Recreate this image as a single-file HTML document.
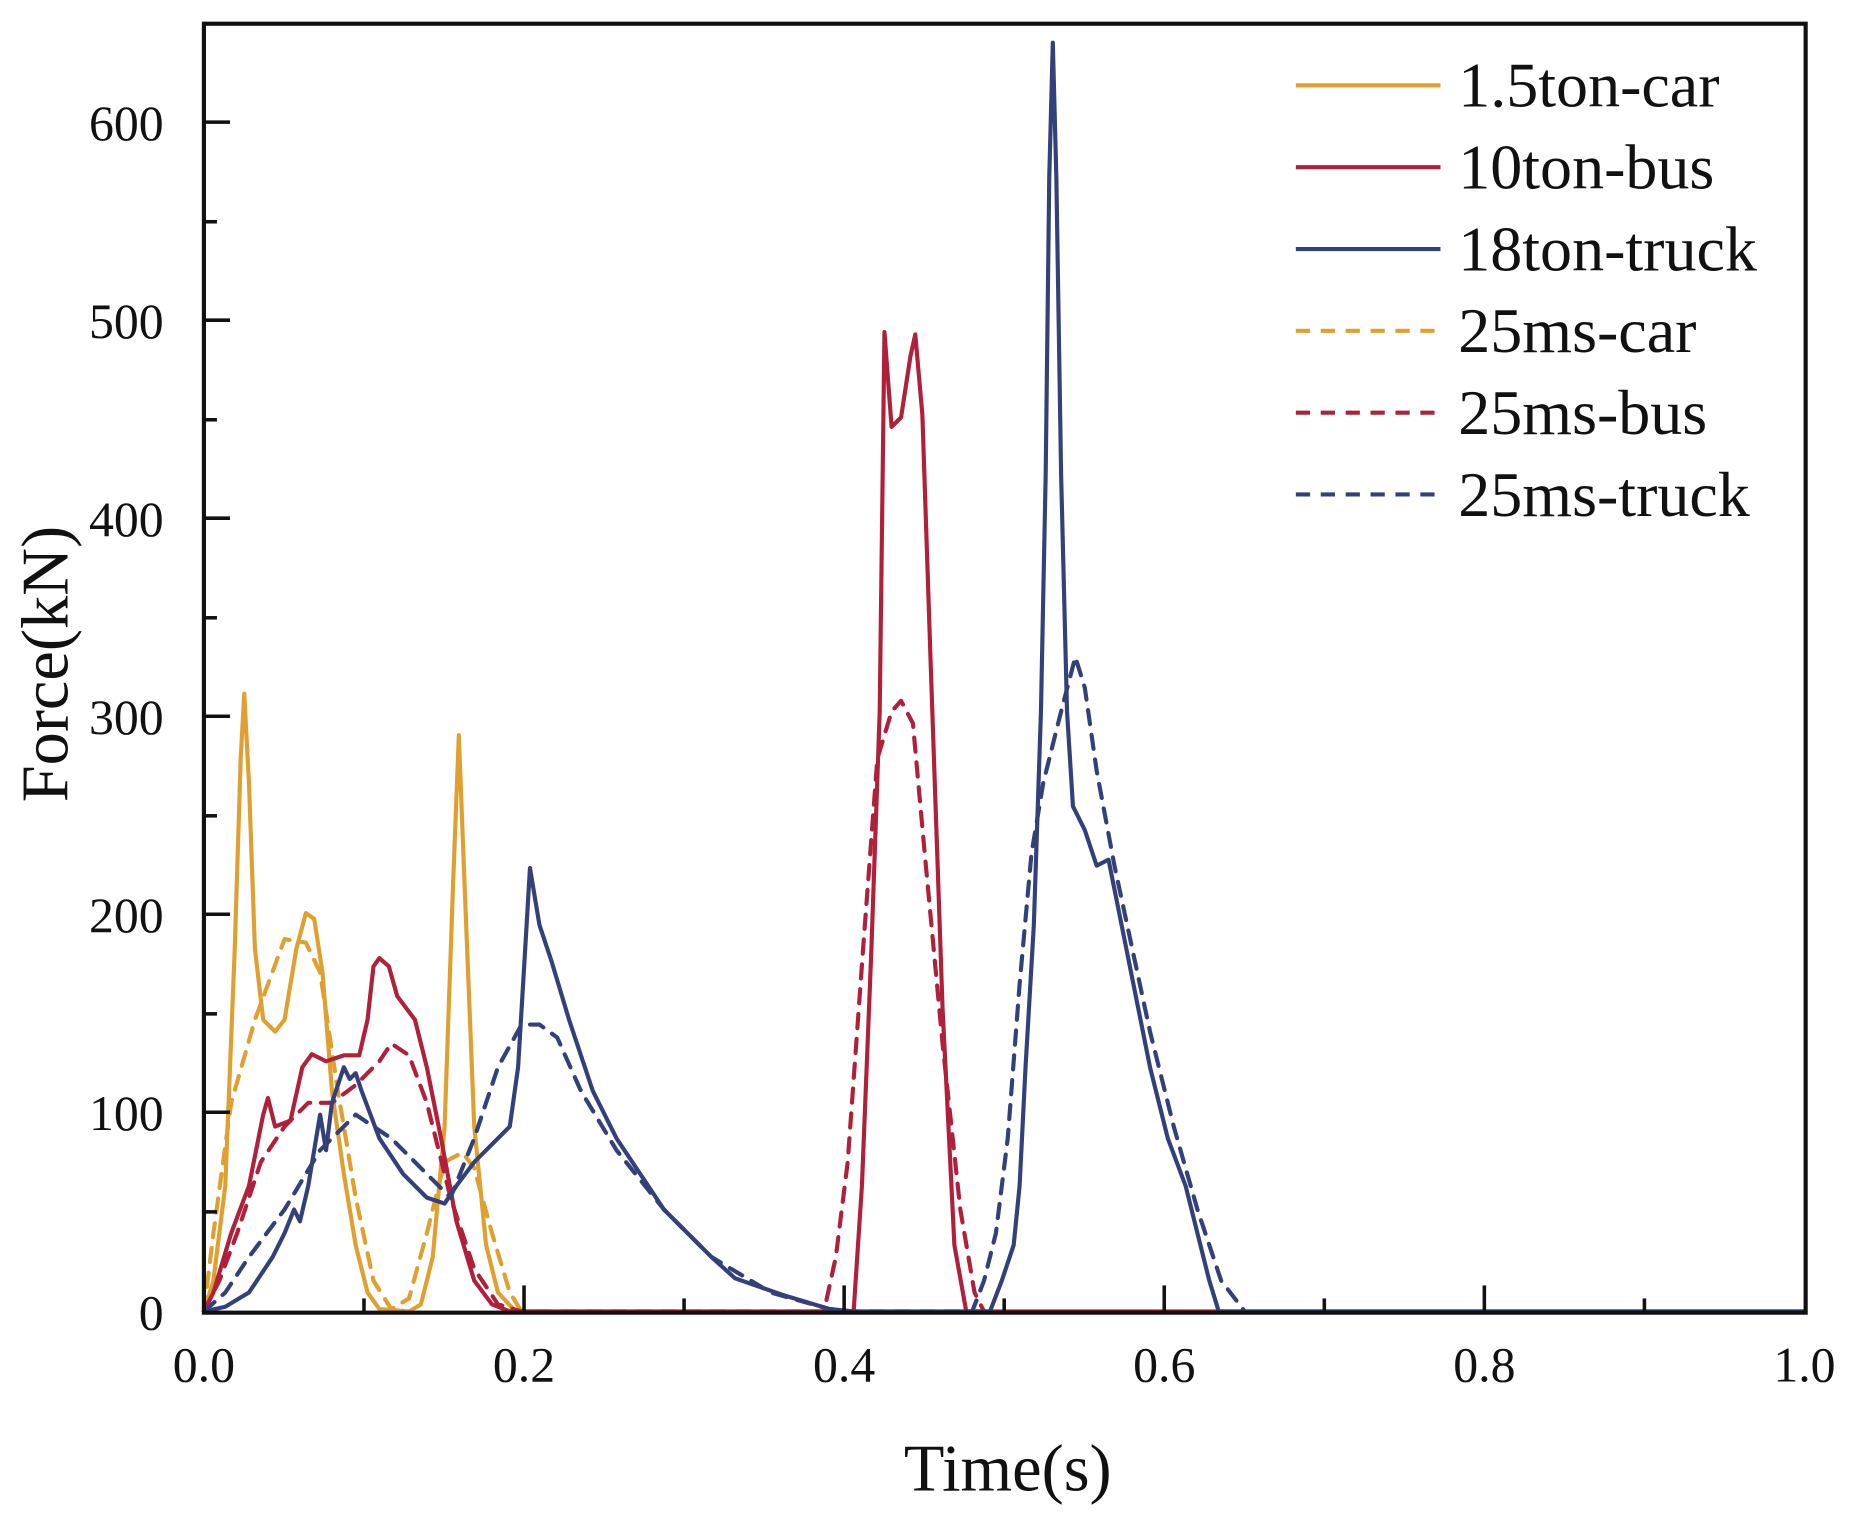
<!DOCTYPE html>
<html><head><meta charset="utf-8"><style>
html,body{margin:0;padding:0;background:#fff;}
svg{display:block;}
text{font-family:"Liberation Serif",serif;fill:#111;}
</style></head><body>
<svg width="1859" height="1519" viewBox="0 0 1568 1281" preserveAspectRatio="none" xmlns="http://www.w3.org/2000/svg">
<rect width="1568" height="1281" fill="#fff"/>
<g fill="none" stroke-linejoin="round" stroke-linecap="round" stroke-width="3.5">
<polyline stroke="#E0A030" points="172,1106 180,1080 190,1000 198,800 203,640 206,585 210,660 215,800 222,860 232,870 240,860 250,800 258,770 265,775 272,820 280,920 290,990 300,1050 310,1090 320,1104 345,1106 355,1100 365,1060 375,950 382,750 387,620 392,750 400,950 410,1050 420,1090 435,1106 460,1106"/>
<polyline stroke="#E0A030" stroke-dasharray="12,9" points="172,1106 180,1040 195,930 215,860 240,792 258,795 270,820 285,920 300,1010 315,1080 330,1104 345,1095 360,1040 375,980 390,972 400,985 415,1040 430,1090 440,1106 455,1106"/>
<polyline stroke="#B0203A" points="172,1106 180,1090 195,1040 210,1000 222,940 226,926 232,950 245,945 255,900 263,889 275,895 290,890 303,890 310,860 315,815 320,808 328,815 335,840 350,860 360,900 372,960 385,1030 400,1080 415,1100 430,1106 720,1106 727,1000 735,800 742,600 746,280 752,360 760,352 768,300 772,282 778,350 785,560 795,850 805,1050 815,1106 1522,1106"/>
<polyline stroke="#B0203A" stroke-dasharray="12,9" points="172,1106 185,1080 200,1040 220,980 240,950 260,930 280,930 300,915 320,895 330,880 345,890 360,930 380,1010 400,1070 420,1100 440,1106 695,1106 705,1060 715,980 728,800 740,640 752,600 760,591 770,610 780,720 795,880 810,1020 822,1090 830,1106"/>
<polyline stroke="#33407A" points="172,1106 190,1102 210,1090 230,1060 240,1040 248,1020 253,1030 260,1000 270,940 275,970 280,930 290,900 295,910 300,905 305,920 320,960 340,990 360,1010 375,1015 385,1000 400,980 420,960 430,950 437,900 443,800 447,732 455,780 465,810 480,860 500,920 520,960 540,990 560,1020 580,1040 600,1060 620,1078 640,1085 660,1092 680,1098 700,1104 720,1106 835,1106 845,1080 855,1050 860,1000 865,900 872,780 878,600 882,400 885,150 888,36 891,150 895,400 900,600 905,680 915,700 925,730 935,725 940,750 950,800 960,850 970,900 985,960 1000,1000 1010,1040 1020,1080 1028,1106 1522,1106"/>
<polyline stroke="#33407A" stroke-dasharray="12,9" points="172,1106 190,1090 210,1060 240,1020 270,970 300,940 330,960 360,990 380,1010 400,960 420,900 440,864 455,864 470,875 490,920 520,970 560,1020 600,1060 650,1090 700,1104 720,1106 820,1106 830,1080 840,1040 850,960 860,830 870,720 880,660 895,600 907,554 915,580 925,650 940,730 955,800 970,870 990,950 1010,1020 1030,1080 1050,1106"/>
</g>
<rect x="172" y="20" width="1351" height="1087" fill="none" stroke="#111" stroke-width="3.5"/>
<g stroke="#111" stroke-width="3">
<line x1="172" y1="938" x2="194" y2="938"/><line x1="172" y1="771" x2="194" y2="771"/><line x1="172" y1="604" x2="194" y2="604"/><line x1="172" y1="437" x2="194" y2="437"/><line x1="172" y1="270" x2="194" y2="270"/><line x1="172" y1="103" x2="194" y2="103"/>
<line x1="172" y1="1022" x2="183" y2="1022"/><line x1="172" y1="855" x2="183" y2="855"/><line x1="172" y1="688" x2="183" y2="688"/><line x1="172" y1="521" x2="183" y2="521"/><line x1="172" y1="354" x2="183" y2="354"/><line x1="172" y1="187" x2="183" y2="187"/>
<line x1="442" y1="1106" x2="442" y2="1084"/><line x1="712" y1="1106" x2="712" y2="1084"/><line x1="982" y1="1106" x2="982" y2="1084"/><line x1="1252" y1="1106" x2="1252" y2="1084"/>
<line x1="307" y1="1106" x2="307" y2="1095"/><line x1="577" y1="1106" x2="577" y2="1095"/><line x1="847" y1="1106" x2="847" y2="1095"/><line x1="1117" y1="1106" x2="1117" y2="1095"/><line x1="1387" y1="1106" x2="1387" y2="1095"/>
</g>
<g font-size="42" text-anchor="end">
<text x="138" y="1121">0</text><text x="138" y="953">100</text><text x="138" y="786">200</text><text x="138" y="619">300</text><text x="138" y="452">400</text><text x="138" y="285">500</text><text x="138" y="118">600</text>
</g>
<g font-size="42" text-anchor="middle">
<text x="172" y="1165">0.0</text><text x="442" y="1165">0.2</text><text x="712" y="1165">0.4</text><text x="982" y="1165">0.6</text><text x="1252" y="1165">0.8</text><text x="1522" y="1165">1.0</text>
</g>
<text x="850" y="1257" font-size="56" text-anchor="middle">Time(s)</text>
<text transform="translate(57,560) rotate(-90)" font-size="56" text-anchor="middle">Force(kN)</text>
<g stroke-width="3.5">
<line x1="1093" y1="72" x2="1215" y2="72" stroke="#E0A030"/>
<line x1="1093" y1="141" x2="1215" y2="141" stroke="#B0203A"/>
<line x1="1093" y1="210" x2="1215" y2="210" stroke="#33407A"/>
<line x1="1093" y1="279" x2="1215" y2="279" stroke="#E0A030" stroke-dasharray="12,9"/>
<line x1="1093" y1="348" x2="1215" y2="348" stroke="#B0203A" stroke-dasharray="12,9"/>
<line x1="1093" y1="417" x2="1215" y2="417" stroke="#33407A" stroke-dasharray="12,9"/>
</g>
<g font-size="54">
<text x="1230" y="90">1.5ton-car</text>
<text x="1230" y="159">10ton-bus</text>
<text x="1230" y="228">18ton-truck</text>
<text x="1230" y="297">25ms-car</text>
<text x="1230" y="366">25ms-bus</text>
<text x="1230" y="435">25ms-truck</text>
</g>
</svg>
</body></html>
